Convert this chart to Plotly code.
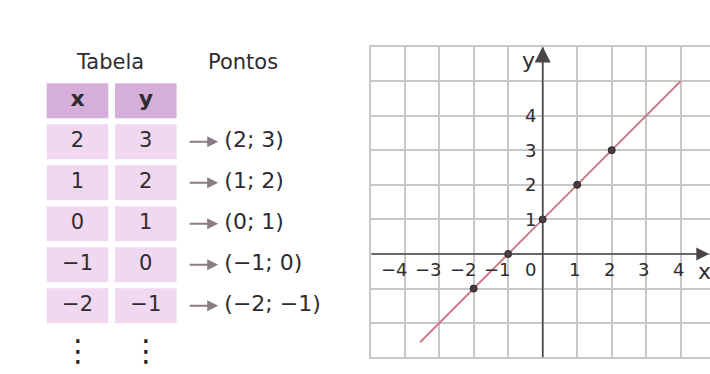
import plotly.graph_objects as go

# ---- data -------------------------------------------------------------
x_vals = [2, 1, 0, -1, -2]
y_vals = [3, 2, 1, 0, -1]
header = ["x", "y"]
table_title = "Tabela"
points_title = "Pontos"

# drawn segment of the line y = x + 1
line_x = [-3.55, 4]
line_y = [-2.55, 5]

x_ticks = [-4, -3, -2, -1, 0, 1, 2, 3, 4]
y_ticks = [1, 2, 3, 4]


def fmt(v):
    return str(v).replace("-", "\u2212")


# ---- styles -----------------------------------------------------------
W, H = 710, 374
FONT = "DejaVu Sans"
TEXT = "#2f2c2f"
GRID = "#c8c8c8"
AXIS = "#4a4548"
LINE = "#c77e85"
HEAD_FILL = "#d6aeda"
CELL_FILL = "#f0d9f0"
ARROW = "#8b7d86"

fig = go.Figure()

# ---- graph ------------------------------------------------------------
fig.add_trace(go.Scatter(x=line_x, y=line_y, mode="lines",
                         line=dict(color=LINE, width=2), hoverinfo="skip"))
fig.add_trace(go.Scatter(x=x_vals, y=y_vals, mode="markers",
                         marker=dict(size=7, color="#4a3c42",
                                     line=dict(color="#2a2226", width=1)),
                         hoverinfo="skip"))

annotations = []

# axes with arrow heads
annotations.append(dict(x=4.82, y=0, ax=-5.0, ay=0, xref="x", yref="y",
                        axref="x", ayref="y", text="", showarrow=True,
                        arrowhead=2, arrowsize=1.6, arrowwidth=1.6,
                        arrowcolor=AXIS))
annotations.append(dict(x=0, y=6.0, ax=0, ay=-3.03, xref="x", yref="y",
                        axref="x", ayref="y", text="", showarrow=True,
                        arrowhead=2, arrowsize=2.0, arrowwidth=1.6,
                        arrowcolor=AXIS))

# axis names
annotations.append(dict(x=0, y=5.6, xref="x", yref="y", text="y",
                        showarrow=False, xanchor="right", xshift=-6,
                        font=dict(family=FONT, size=22, color=TEXT)))
annotations.append(dict(x=4.68, y=-0.52, xref="x", yref="y", text="x",
                        showarrow=False, xanchor="center",
                        font=dict(family=FONT, size=22, color=TEXT)))

# tick labels
for t in x_ticks:
    annotations.append(dict(x=t, y=0, xref="x", yref="y", text=fmt(t),
                            showarrow=False, xanchor="right",
                            xshift=(-5 if t == 0 else 5), yshift=-16,
                            font=dict(family=FONT, size=18, color=TEXT)))
for t in y_ticks:
    annotations.append(dict(x=0, y=t, xref="x", yref="y", text=fmt(t),
                            showarrow=False, xanchor="right", xshift=-5,
                            font=dict(family=FONT, size=18, color=TEXT)))

# ---- table ------------------------------------------------------------
shapes = []
CW, CH = 0.451, 0.427  # half cell size in column / row units
for c in range(2):
    shapes.append(dict(type="rect", xref="x2", yref="y2",
                       x0=c - CW, x1=c + CW, y0=-CH, y1=CH,
                       fillcolor=HEAD_FILL, line=dict(width=0), layer="below"))
    for r in range(1, len(x_vals) + 1):
        shapes.append(dict(type="rect", xref="x2", yref="y2",
                           x0=c - CW, x1=c + CW, y0=r - CH, y1=r + CH,
                           fillcolor=CELL_FILL, line=dict(width=0),
                           layer="below"))

rows = list(range(1, len(x_vals) + 1))

fig.add_trace(go.Scatter(x=[0, 1], y=[0, 0], mode="text", xaxis="x2",
                         yaxis="y2", text=[f"<b>{h}</b>" for h in header],
                         textfont=dict(family=FONT, size=22, color=TEXT),
                         hoverinfo="skip"))
fig.add_trace(go.Scatter(x=[0] * len(x_vals), y=rows, mode="text",
                         xaxis="x2", yaxis="y2",
                         text=[fmt(v) for v in x_vals],
                         textfont=dict(family=FONT, size=21, color=TEXT),
                         hoverinfo="skip"))
fig.add_trace(go.Scatter(x=[1] * len(y_vals), y=rows, mode="text",
                         xaxis="x2", yaxis="y2",
                         text=[fmt(v) for v in y_vals],
                         textfont=dict(family=FONT, size=21, color=TEXT),
                         hoverinfo="skip"))
fig.add_trace(go.Scatter(x=[2.15] * len(x_vals), y=rows, mode="text",
                         xaxis="x2", yaxis="y2", textposition="middle right",
                         text=[f"({fmt(a)}; {fmt(b)})"
                               for a, b in zip(x_vals, y_vals)],
                         textfont=dict(family=FONT, size=22, color=TEXT),
                         hoverinfo="skip"))

for r in rows:
    annotations.append(dict(x=2.06, y=r, ax=1.62, ay=r, xref="x2", yref="y2",
                            axref="x2", ayref="y2", text="", showarrow=True,
                            arrowhead=2, arrowsize=1.1, arrowwidth=2,
                            arrowcolor=ARROW))

annotations.append(dict(x=0.47, y=-0.95, xref="x2", yref="y2",
                        text=table_title, showarrow=False,
                        font=dict(family=FONT, size=21, color=TEXT)))
annotations.append(dict(x=2.42, y=-0.95, xref="x2", yref="y2",
                        text=points_title, showarrow=False,
                        font=dict(family=FONT, size=21, color=TEXT)))
for c in range(2):
    annotations.append(dict(x=c, y=6.1, xref="x2", yref="y2", text="\u22ee",
                            showarrow=False,
                            font=dict(family=FONT, size=30, color="#222022")))

# ---- layout -----------------------------------------------------------
fig.update_layout(
    width=W, height=H, margin=dict(l=0, r=0, t=0, b=0),
    paper_bgcolor="white", plot_bgcolor="rgba(0,0,0,0)", showlegend=False,
    xaxis=dict(domain=[369.0 / W, 1], range=[-5.03, 4.846], dtick=1, tick0=0,
               showgrid=True, gridcolor=GRID, gridwidth=1.5, zeroline=False,
               showticklabels=False, ticks="", showline=False,
               fixedrange=True),
    yaxis=dict(domain=[0.04064, 0.8786], range=[-3.03, 6.03], dtick=1,
               tick0=0, showgrid=True, gridcolor=GRID, gridwidth=1.5,
               zeroline=False, showticklabels=False, ticks="",
               showline=False, fixedrange=True),
    xaxis2=dict(domain=[0, 0.5], range=[-1.135, 4.063], visible=False,
                anchor="y2", fixedrange=True),
    yaxis2=dict(domain=[0, 1], range=[6.666, -2.456], visible=False,
                anchor="x2", fixedrange=True),
    shapes=shapes, annotations=annotations,
)

fig.write_html("out.html")
